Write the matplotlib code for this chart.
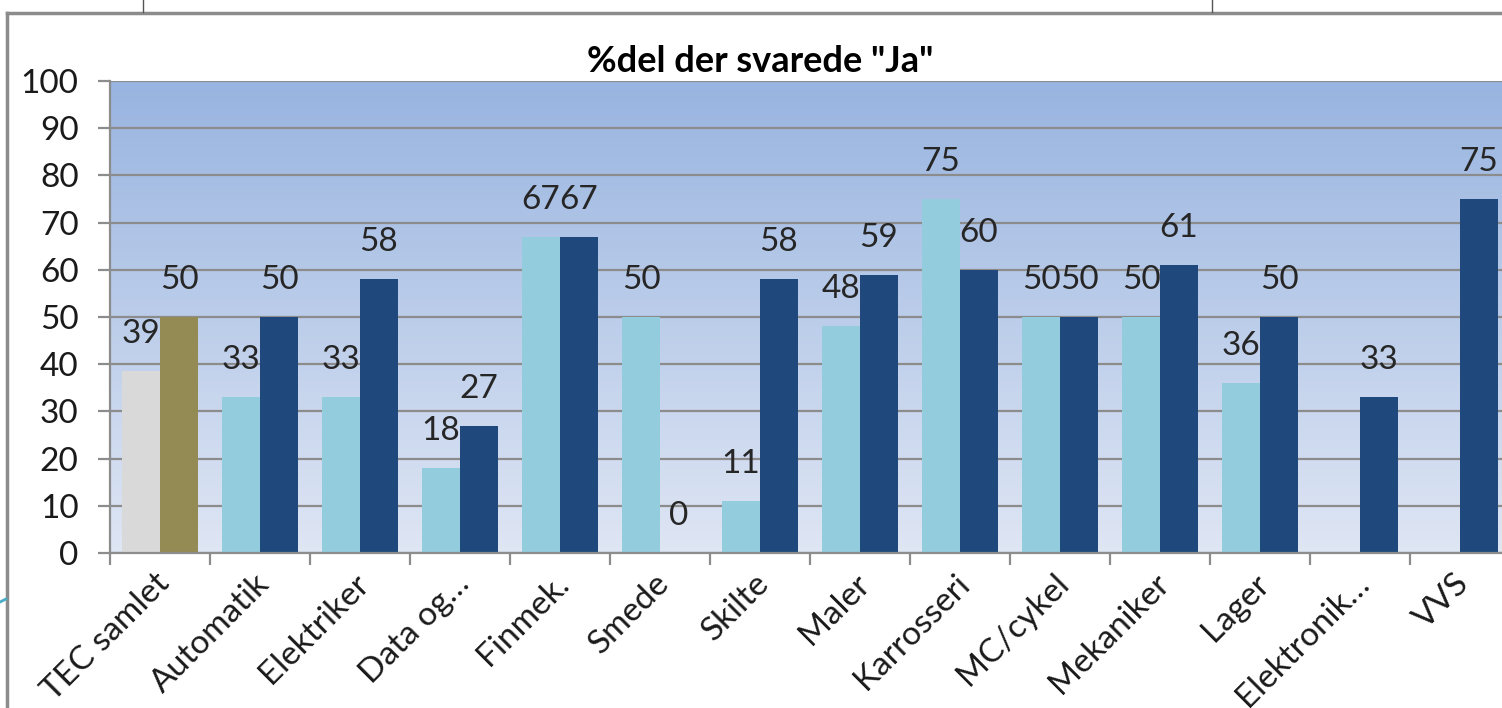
import numpy as np
import matplotlib
matplotlib.use('Agg')
import matplotlib.pyplot as plt
from matplotlib.colors import LinearSegmentedColormap
from matplotlib.lines import Line2D
import matplotlib.transforms as mtransforms

categories = ["TEC samlet", "Automatik", "Elektriker", "Data og…", "Finmek.", "Smede",
              "Skilte", "Maler", "Karrosseri", "MC/cykel", "Mekaniker", "Lager",
              "Elektronik…", "VVS"]
series_a = [38.6, 33, 33, 18, 67, 50, 11, 48, 75, 50, 50, 36, np.nan, np.nan]
series_b = [50, 50, 58, 27, 67, 0, 58, 59, 60, 50, 61, 50, 33, 75]
title = '%del der svarede "Ja"'
yticks = list(range(0, 101, 10))

FONT = 'Lato'
W, H = 1502, 708
fig = plt.figure(figsize=(W / 100, H / 100), dpi=100)
fig.patch.set_facecolor('white')
ax = fig.add_axes([110 / W, 155 / H, 1400 / W, 472 / H])

# gradient plot-area background
cmap = LinearSegmentedColormap.from_list('bg', ['#DFE6F4', '#98B4E0'])
ax.imshow(np.linspace(0, 1, 256).reshape(-1, 1), origin='lower', cmap=cmap,
          extent=[-0.5, 13.5, 0, 100], aspect='auto', zorder=0)

x = np.arange(len(categories))
bw = 0.385
off = 0.19
cols_a = ['#D9D9D9'] + ['#93CDDD'] * (len(categories) - 1)
cols_b = ['#948A54'] + ['#1F497D'] * (len(categories) - 1)
ax.bar(x - off, series_a, width=bw, color=cols_a, zorder=2)
ax.bar(x + off, series_b, width=bw, color=cols_b, zorder=2)

for xs, vals in ((x - off, series_a), (x + off, series_b)):
    for xi, v in zip(xs, vals):
        if np.isnan(v):
            continue
        ax.annotate(f"{v:.0f}", (xi, v), xytext=(0, 26.6), textcoords='offset points',
                    ha='center', va='center', fontsize=24, color='#262626',
                    family=FONT, zorder=3)

ax.set_xlim(-0.5, 13.5)
ax.set_ylim(0, 100)
ax.set_yticks(yticks)
ax.yaxis.grid(True, color='#8C8C8C', lw=1.6)
ax.set_axisbelow(True)

for s in ('top', 'right'):
    ax.spines[s].set_visible(False)
for s in ('left', 'bottom'):
    ax.spines[s].set_color('#8C8C8C')
    ax.spines[s].set_linewidth(1.6)

ax.tick_params(axis='y', length=8.6, width=1.6, color='#8C8C8C', labelsize=24,
               pad=14, labelcolor='#1a1a1a')
for lab in ax.get_yticklabels():
    lab.set_family(FONT)

ax.set_xticks(x)
ax.set_xticklabels(categories, rotation=45, ha='right', rotation_mode='anchor',
                   fontsize=24, family=FONT, color='#1a1a1a')
ax.set_xticks(np.arange(-0.5, 14, 1), minor=True)
ax.tick_params(axis='x', which='major', length=0, pad=11)
ax.tick_params(axis='x', which='minor', length=8.6, width=1.6, color='#8C8C8C')
shift = mtransforms.ScaledTranslation(-6 / 100, 0, fig.dpi_scale_trans)
for lab in ax.get_xticklabels():
    lab.set_transform(lab.get_transform() + shift)

fig.text(760 / W, 1 - 62 / H, title, ha='center', va='center', fontweight='bold',
         fontsize=26, family=FONT, color='#000000')

# outer frame pieces of the screenshot
fc = '#8C8C8C'
fig.add_artist(Line2D([7 / W, 7 / W], [0, 1 - 13 / H], color=fc, lw=2.5,
                      transform=fig.transFigure))
fig.add_artist(Line2D([7 / W, 1], [1 - 13 / H, 1 - 13 / H], color=fc, lw=2.5,
                      transform=fig.transFigure))
for xv in (143, 1212):
    fig.add_artist(Line2D([xv / W, xv / W], [1 - 12 / H, 1], color='#555555', lw=1,
                          transform=fig.transFigure))
fig.add_artist(Line2D([0, 6 / W], [1 - 602 / H, 1 - 599 / H], color='#4BACC6', lw=2,
                      transform=fig.transFigure))

fig.savefig('out.png', dpi=100)
